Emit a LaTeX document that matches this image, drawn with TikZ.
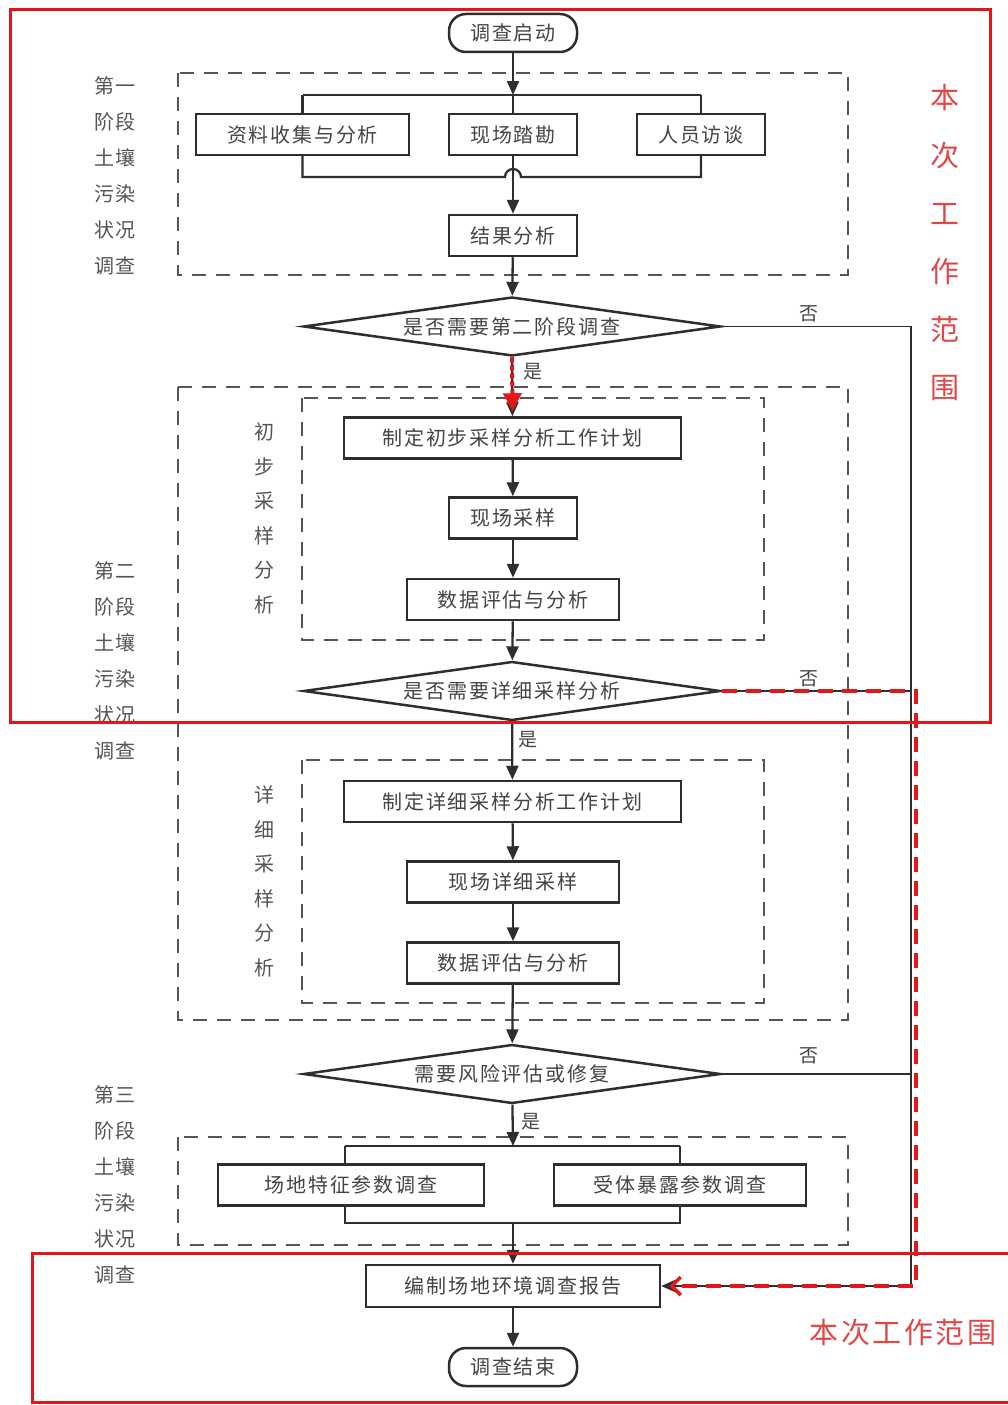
\documentclass[tikz,border=0pt]{standalone}
\usepackage{fontspec}
\newfontfamily\cjk[LetterSpace=9]{Noto Sans CJK SC}
\newfontfamily\cjkplain{Noto Sans CJK SC}
\usetikzlibrary{shapes.geometric,arrows.meta,calc}
\definecolor{lc}{HTML}{2E2E2E}
\definecolor{tc}{HTML}{444444}
\definecolor{dc}{HTML}{555555}
\definecolor{rc}{HTML}{E3161B}
\definecolor{rt}{HTML}{E04848}
\begin{document}
\begin{tikzpicture}[x=1pt,y=-1pt,
  ln/.style={draw=lc, line width=2.3pt},
  thinln/.style={draw=lc, line width=1.8pt},
  arr/.style={-{Triangle[length=14pt,width=12pt]}},
  box/.style={draw=lc, line width=2.5pt, fill=white, minimum height=41pt, inner sep=0pt, text=tc, font=\cjk\fontsize{20}{24}\selectfont},
  term/.style={box, rounded corners=17pt, minimum width=128pt, minimum height=38pt},
  dia/.style={draw=lc, line width=2.5pt, fill=white, shape=diamond, shape aspect=7, minimum width=417pt, minimum height=59pt, inner sep=0pt, text=tc, font=\cjk\fontsize{20}{24}\selectfont},
  dframe/.style={draw=dc, line width=2.8pt, dash pattern=on 14pt off 10pt},
  lbl/.style={text=tc, font=\cjkplain\fontsize{19}{22}\selectfont, inner sep=0pt},
  side/.style={text=dc, align=center, inner sep=0pt, font=\cjk\fontsize{20}{36}\selectfont},
  inner/.style={text=dc, align=center, inner sep=0pt, font=\cjk\fontsize{20}{34.5}\selectfont},
  redv/.style={text=rt, align=center, inner sep=0pt, font=\cjkplain\fontsize{29}{58}\selectfont},
  redh/.style={text=rt, inner sep=0pt, font=\cjk\fontsize{29}{34}\selectfont},
  redbox/.style={draw=rc, line width=3pt}
]
\fill[white] (0,0) rectangle (1008,1405);
\path[use as bounding box] (0,0) rectangle (1008,1405);

% dashed frames
\draw[dframe] (178,73) rectangle (848,275);
\draw[dframe] (178,387) rectangle (848,1020);
\draw[dframe] (302,398) rectangle (764,640);
\draw[dframe] (302,760) rectangle (764,1003);
\draw[dframe] (178,1137) rectangle (848,1245);

% side labels
\node[side] (s1) at (115,175.5) {第一\\阶段\\土壤\\污染\\状况\\调查};
\node[side] (s2) at (115,660.5) {第二\\阶段\\土壤\\污染\\状况\\调查};
\node[side] (s3) at (115,1185) {第三\\阶段\\土壤\\污染\\状况\\调查};
\node[inner] (i1) at (264,518.5) {初\\步\\采\\样\\分\\析};
\node[inner] (i2) at (264,881.5) {详\\细\\采\\样\\分\\析};

% coordinates
\coordinate (bus1t) at (513,95);
\coordinate (bus1b) at (513,177);
\coordinate (bus3t) at (513,1146);
\coordinate (bus3b) at (513,1223);
\coordinate (nx) at (911,0);
\coordinate (rx) at (916,0);

% connectors behind nodes
\draw[ln] (bus1t) -- (513,114);
\draw[ln] (302.5,95) -- (701,95);
\draw[ln] (302.5,95) -- (302.5,114);
\draw[ln] (701,95) -- (701,114);
\draw[ln] (302.5,155) -- (302.5,177) -- (505,177) arc[start angle=180,end angle=360,radius=8] -- (701,177) -- (701,155);
\draw[ln] (345,1146) -- (680,1146);
\draw[ln] (345,1146) -- (345,1165);
\draw[ln] (680,1146) -- (680,1165);
\draw[ln] (345,1205) -- (345,1223) -- (680,1223) -- (680,1205);

% nodes
\node[term] (start) at (513,33) {调查启动};
\node[box, minimum width=213pt] (b1) at (302.5,134.5) {资料收集与分析};
\node[box, minimum width=128pt] (b2) at (513,134.5) {现场踏勘};
\node[box, minimum width=128pt] (b3) at (701,134.5) {人员访谈};
\node[box, minimum width=128pt] (b4) at (513,235.5) {结果分析};
\node[dia] (d1) at (512,326.5) {是否需要第二阶段调查};
\node[box, minimum width=337pt] (c1) at (512.5,438) {制定初步采样分析工作计划};
\node[box, minimum width=128pt] (c2) at (513,518) {现场采样};
\node[box, minimum width=212pt] (c3) at (513,599.5) {数据评估与分析};
\node[dia] (d2) at (512,691) {是否需要详细采样分析};
\node[box, minimum width=337pt] (e1) at (512.5,801.5) {制定详细采样分析工作计划};
\node[box, minimum width=212pt] (e2) at (513,882) {现场详细采样};
\node[box, minimum width=212pt] (e3) at (513,963) {数据评估与分析};
\node[dia] (d3) at (512,1074) {需要风险评估或修复};
\node[box, minimum width=266pt] (f1) at (351,1185) {场地特征参数调查};
\node[box, minimum width=252pt] (f2) at (680,1185) {受体暴露参数调查};
\node[box, minimum width=294pt, minimum height=42pt] (rep) at (513,1286) {编制场地环境调查报告};
\node[term] (end) at (513,1367) {调查结束};

% main flow arrows
\draw[ln, arr] (start) -- (bus1t);
\draw[ln, arr] (b2) -- (b4);
\draw[ln, arr] (b4) -- (d1);
\draw[ln, arr] (d1) -- (c1);
\draw[draw=rc, line width=4pt, dash pattern=on 5pt off 3pt, -{Triangle[length=18pt,width=18pt,fill=rc]}] (d1.south) -- ($(c1.north)+(0,-5)$);
\draw[ln, arr] (c1) -- (c2);
\draw[ln, arr] (c2) -- (c3);
\draw[ln, arr] (c3) -- (d2);
\draw[ln, arr] (d2) -- (e1);
\draw[ln, arr] (e1) -- (e2);
\draw[ln, arr] (e2) -- (e3);
\draw[ln, arr] (e3) -- (d3);
\draw[ln, arr] (d3) -- (bus3t);
\draw[ln, arr] (bus3b) -- (rep);
\draw[ln, arr] (rep) -- (end);

% yes labels
\node[lbl] (y1) at (533,372) {是};
\node[lbl] (y2) at (528,740) {是};
\node[lbl] (y3) at (531,1122) {是};

% no branches
\draw[thinln] (d1.east) -- (d1.east -| nx) -- (rep.east -| nx);
\draw[thinln] (d2.east) -- (d2.east -| nx);
\draw[thinln] (d3.east) -- (d3.east -| nx);
\draw[thinln, arr] (rep.east -| nx) -- (rep.east);
\draw[draw=rc, line width=3.8pt, dash pattern=on 15pt off 9pt, -{Straight Barb[length=9pt,width=18pt,line width=3.5pt]}] (d2.east) -- (d2.east -| rx) -- (rep.east -| rx) -- ($(rep.east)+(8,0)$);
\node[lbl] (n1) at (809,314) {否};
\node[lbl] (n2) at (809,679) {否};
\node[lbl] (n3) at (809,1056) {否};

% red scope frames
\draw[redbox] (10,10) rectangle (990,722);
\begin{scope}
\clip (0,0) rectangle (1008,1405);
\draw[redbox] (32,1253) rectangle (1040,1402);
\end{scope}
\node[redv] (rv) at (945,242.5) {本\\次\\工\\作\\范\\围};
\node[redh] (rh) at (903,1333) {本次工作范围};
\end{tikzpicture}
\end{document}
